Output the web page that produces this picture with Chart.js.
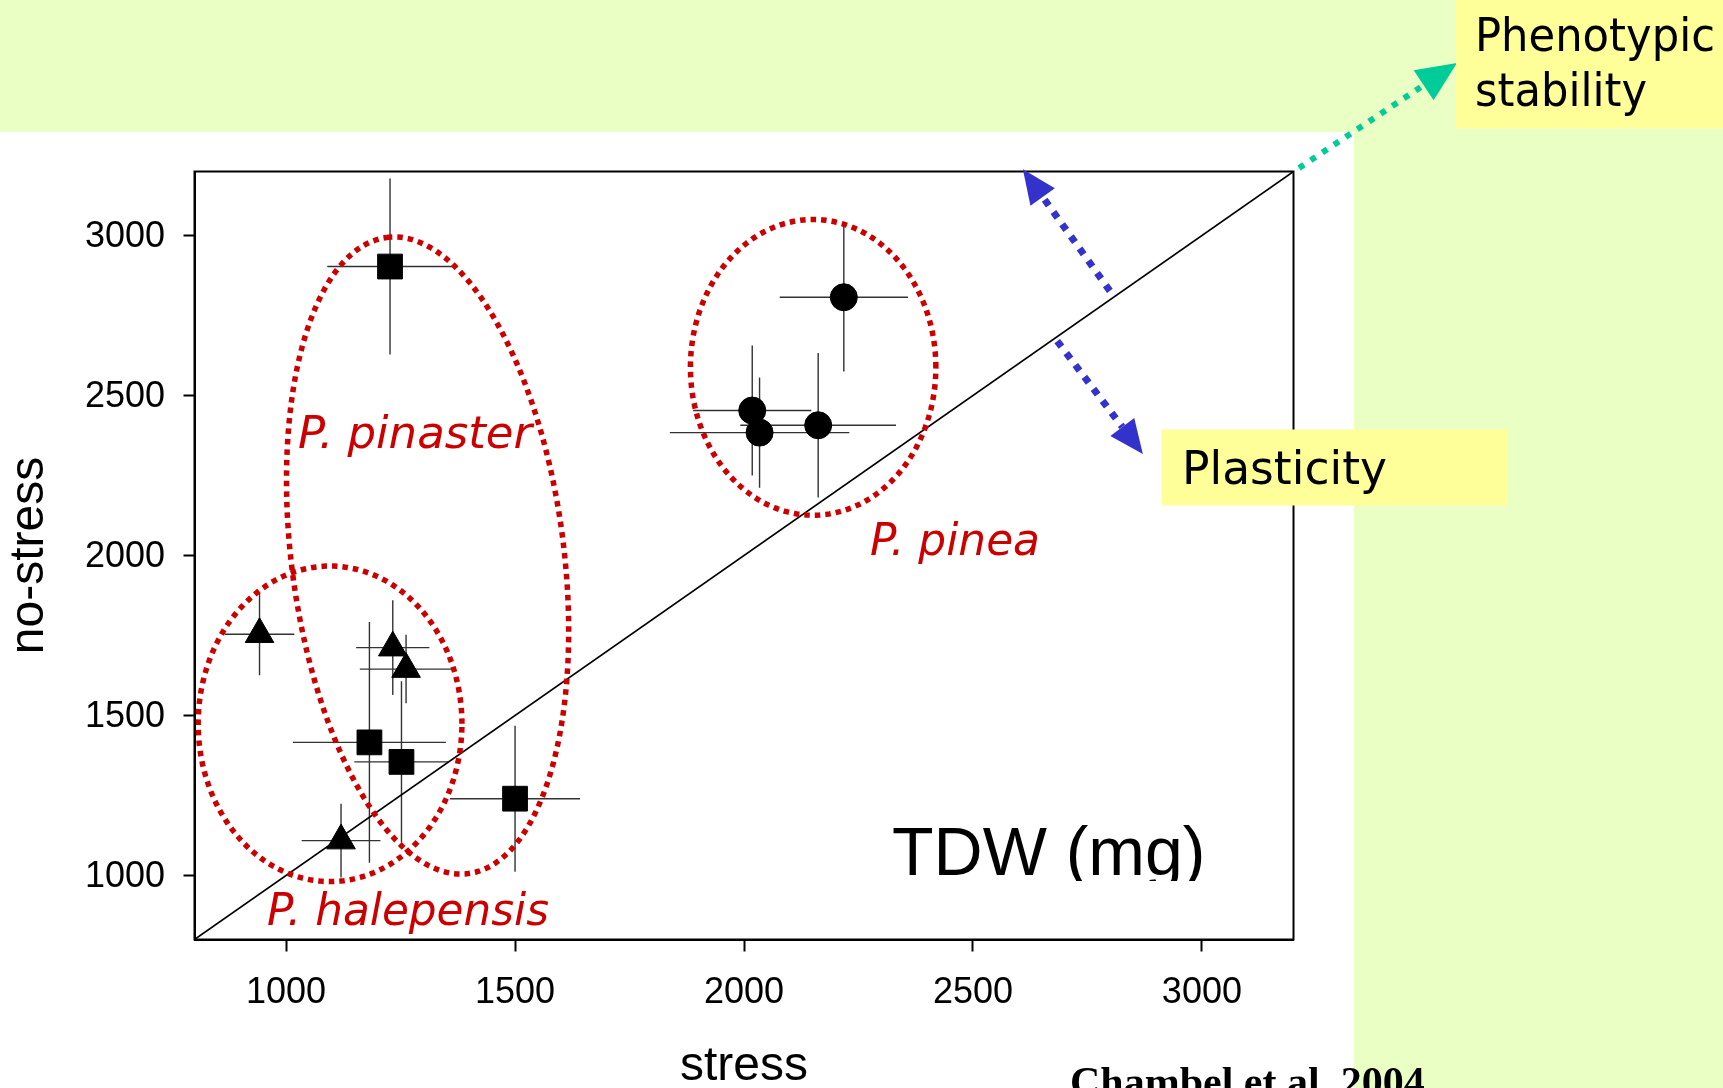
<!DOCTYPE html>
<html>
<head>
<meta charset="utf-8">
<title>TDW (mg)</title>
<script src="https://cdn.jsdelivr.net/npm/chart.js@4.4.1/dist/chart.umd.min.js"></script>
<style>
    html, body { margin: 0; padding: 0; background: #eaffc4; }
    canvas { display: block; }
</style>
</head>
<body>
<canvas id="myChart" width="1723" height="1088"></canvas>
<script>
/*----------- data ------------ */
// P. halepensis (triangles)
const halepensisX = [942, 1233, 1262, 1120];
const halepensisY = [1754, 1712, 1645, 1109];
const halepensisXErr = [76, 80, 101, 86];
const halepensisYErr = [128, 148, 107, 115];

// P. pinaster (squares)
const pinasterX = [1227, 1182, 1252, 1500];
const pinasterY = [2903, 1416, 1355, 1240];
const pinasterXErr = [137, 167, 103, 142];
const pinasterYErr = [275, 376, 252, 228];

// P. pinea (circles)
const pineaX = [2218, 2018, 2034, 2162];
const pineaY = [2807, 2453, 2384, 2407];
const pineaXErr = [140, 129, 196, 170];
const pineaYErr = [232, 203, 172, 226];

const axisMin = 800;
const axisMax = 3200;
const tickValues = [1000, 1500, 2000, 2500, 3000];

const comic = "'DejaVu Sans', sans-serif";
const RED = '#cc0000';

/*----------- helpers ------------ */
function points(xs, ys) {
    return xs.map((x, i) => ({ x: x, y: ys[i] }));
}

// group outlines, in data units: centre and two conjugate semi-axes
const groupEllipses = [
    { c: [1309, 2000], u: [-89, 994], v: [295, 54] },   // pinaster
    { c: [1096, 1474], u: [288, 0], v: [0, 493] },      // halepensis
    { c: [2151, 2588], u: [268, 0], v: [0, 462] },      // pinea
];

function dottedArrow(ctx, x0, y0, x1, y1, color, width, dash, headLen, headW) {
    const ang = Math.atan2(y1 - y0, x1 - x0);
    const bx = x1 - Math.cos(ang) * headLen;
    const by = y1 - Math.sin(ang) * headLen;
    ctx.save();
    ctx.strokeStyle = color;
    ctx.lineWidth = width;
    ctx.setLineDash(dash);
    ctx.beginPath();
    ctx.moveTo(x0, y0);
    ctx.lineTo(bx, by);
    ctx.stroke();
    ctx.setLineDash([]);
    ctx.fillStyle = color;
    ctx.beginPath();
    ctx.moveTo(x1, y1);
    ctx.lineTo(bx + Math.sin(ang) * headW / 2, by - Math.cos(ang) * headW / 2);
    ctx.lineTo(bx - Math.sin(ang) * headW / 2, by + Math.cos(ang) * headW / 2);
    ctx.closePath();
    ctx.fill();
    ctx.restore();
}

/*----------- plugins ------------ */
const slide = {
    id: 'slide',
    beforeDraw(chart) {
        const ctx = chart.ctx;
        ctx.save();
        ctx.fillStyle = '#eaffc4';
        ctx.fillRect(0, 0, chart.width, chart.height);
        ctx.fillStyle = '#ffffff';
        ctx.fillRect(0, 132, 1354, chart.height - 132);
        ctx.restore();
    },
    afterDraw(chart) {
        const { ctx, chartArea: a, scales: { x, y } } = chart;
        const px = v => x.getPixelForValue(v);
        const py = v => y.getPixelForValue(v);
        ctx.save();

        // frame
        ctx.strokeStyle = '#000';
        ctx.lineWidth = 2;
        ctx.strokeRect(a.left, a.top, a.right - a.left, a.bottom - a.top);

        // species labels
        ctx.fillStyle = RED;
        ctx.textBaseline = 'alphabetic';
        ctx.font = 'italic 45px ' + comic;
        ctx.fillText('P. pinaster', 298, 448, 240);
        ctx.fillText('P. halepensis', 267, 925, 282);
        ctx.fillText('P. pinea', 870, 555, 170);

        // TDW (mg), bottom cut off like the slide
        ctx.save();
        ctx.beginPath();
        ctx.rect(880, 800, 360, 81);
        ctx.clip();
        ctx.fillStyle = '#000';
        ctx.font = "68px 'Liberation Sans', Arial, sans-serif";
        ctx.fillText('TDW (mg)', 892, 875);
        ctx.restore();

        // plasticity arrows
        dottedArrow(ctx, px(2799), py(2827), px(2609), py(3207), '#3333cc', 7, [7, 8], 34, 30);
        dottedArrow(ctx, px(2684), py(2670), px(2871), py(2317), '#3333cc', 7, [7, 8], 34, 30);
        // phenotypic stability arrow
        dottedArrow(ctx, px(3212), py(3211), px(3557), py(3539), '#00cc99', 6, [6, 8], 40, 36);

        // yellow boxes
        ctx.fillStyle = '#ffff99';
        ctx.fillRect(1161.5, 429.5, 346, 76);
        ctx.fillRect(1456, 0, 267, 128.5);
        ctx.fillStyle = '#000';
        ctx.font = '47px ' + comic;
        ctx.fillText('Plasticity', 1182, 484, 205);
        ctx.fillText('Phenotypic', 1475, 51, 240);
        ctx.fillText('stability', 1475, 106, 172);

        // reference
        ctx.font = "bold 42px 'Liberation Serif', 'Times New Roman', serif";
        ctx.fillText('Chambel et al. 2004', 1070, 1096, 358);
        ctx.restore();
    }
};

const errorBars = {
    id: 'errorBars',
    beforeDatasetsDraw(chart) {
        const { ctx, scales: { x, y } } = chart;
        ctx.save();
        ctx.strokeStyle = '#333';
        ctx.lineWidth = 1.4;
        chart.data.datasets.forEach(ds => {
            if (!ds.xErr) return;
            ds.data.forEach((p, i) => {
                const cx = x.getPixelForValue(p.x);
                const cy = y.getPixelForValue(p.y);
                ctx.beginPath();
                ctx.moveTo(x.getPixelForValue(p.x - ds.xErr[i]), cy);
                ctx.lineTo(x.getPixelForValue(p.x + ds.xErr[i]), cy);
                ctx.moveTo(cx, y.getPixelForValue(p.y - ds.yErr[i]));
                ctx.lineTo(cx, y.getPixelForValue(p.y + ds.yErr[i]));
                ctx.stroke();
            });
        });
        ctx.restore();
    },
    afterDatasetsDraw(chart) {
        const { ctx, scales: { x, y } } = chart;
        ctx.save();
        ctx.strokeStyle = RED;
        ctx.lineWidth = 5.5;
        ctx.setLineDash([5.5, 5]);
        groupEllipses.forEach(e => {
            ctx.beginPath();
            for (let k = 0; k <= 240; k++) {
                const t = k / 240 * Math.PI * 2;
                const vx = e.c[0] + e.u[0] * Math.cos(t) + e.v[0] * Math.sin(t);
                const vy = e.c[1] + e.u[1] * Math.cos(t) + e.v[1] * Math.sin(t);
                const X = x.getPixelForValue(vx), Y = y.getPixelForValue(vy);
                if (k === 0) ctx.moveTo(X, Y); else ctx.lineTo(X, Y);
            }
            ctx.stroke();
        });
        ctx.restore();
    }
};

/*----------- chart ------------ */
Chart.defaults.font.family = "'Liberation Sans', Arial, sans-serif";
Chart.defaults.color = '#000';

const data = {
    datasets: [{
        label: 'P. halepensis',
        data: points(halepensisX, halepensisY),
        xErr: halepensisXErr,
        yErr: halepensisYErr,
        pointStyle: 'triangle',
        pointRadius: 16.5,
        backgroundColor: '#000',
        borderColor: '#000',
    }, {
        label: 'P. pinaster',
        data: points(pinasterX, pinasterY),
        xErr: pinasterXErr,
        yErr: pinasterYErr,
        pointStyle: 'rect',
        pointRadius: 17.5,
        backgroundColor: '#000',
        borderColor: '#000',
    }, {
        label: 'P. pinea',
        data: points(pineaX, pineaY),
        xErr: pineaXErr,
        yErr: pineaYErr,
        pointStyle: 'circle',
        pointRadius: 13.5,
        backgroundColor: '#000',
        borderColor: '#000',
    }, {
        label: '1:1',
        data: [{ x: axisMin, y: axisMin }, { x: axisMax, y: axisMax }],
        showLine: true,
        pointRadius: 0,
        borderColor: '#000',
        borderWidth: 1.6,
    }]
};

const config = {
    type: 'scatter',
    data: data,
    plugins: [slide, errorBars],
    options: {
        responsive: false,
        animation: false,
        devicePixelRatio: 1,
        layout: { padding: { left: 0, top: 171.5, right: 429.5, bottom: 0 } },
        plugins: { legend: { display: false }, tooltip: { enabled: false } },
        scales: {
            x: {
                type: 'linear',
                min: axisMin,
                max: axisMax,
                afterBuildTicks: s => { s.ticks = tickValues.map(v => ({ value: v })); },
                afterFit: s => { s.height = 148.5; },
                ticks: { font: { size: 36 }, color: '#000', padding: 19.6, maxRotation: 0, callback: v => String(v) },
                grid: { drawOnChartArea: false, tickLength: 12, tickWidth: 2, tickColor: '#000' },
                border: { color: '#000', width: 2 },
                title: { display: true, text: 'stress', color: '#000', font: { size: 48, lineHeight: 0.9 }, padding: 0 }
            },
            y: {
                type: 'linear',
                min: axisMin,
                max: axisMax,
                afterBuildTicks: s => { s.ticks = tickValues.map(v => ({ value: v })); },
                afterFit: s => { s.width = 194.5; },
                ticks: { font: { size: 36 }, color: '#000', padding: 18.5, labelOffset: 2, callback: v => String(v) },
                grid: { drawOnChartArea: false, tickLength: 11, tickWidth: 2, tickColor: '#000' },
                border: { color: '#000', width: 2 },
                title: { display: true, text: 'no-stress', color: '#000', font: { size: 48, lineHeight: 1.2 }, padding: { top: 1.3, bottom: 0 } }
            }
        }
    }
};

const myChart = new Chart(document.getElementById('myChart'), config);
</script>
</body>
</html>
